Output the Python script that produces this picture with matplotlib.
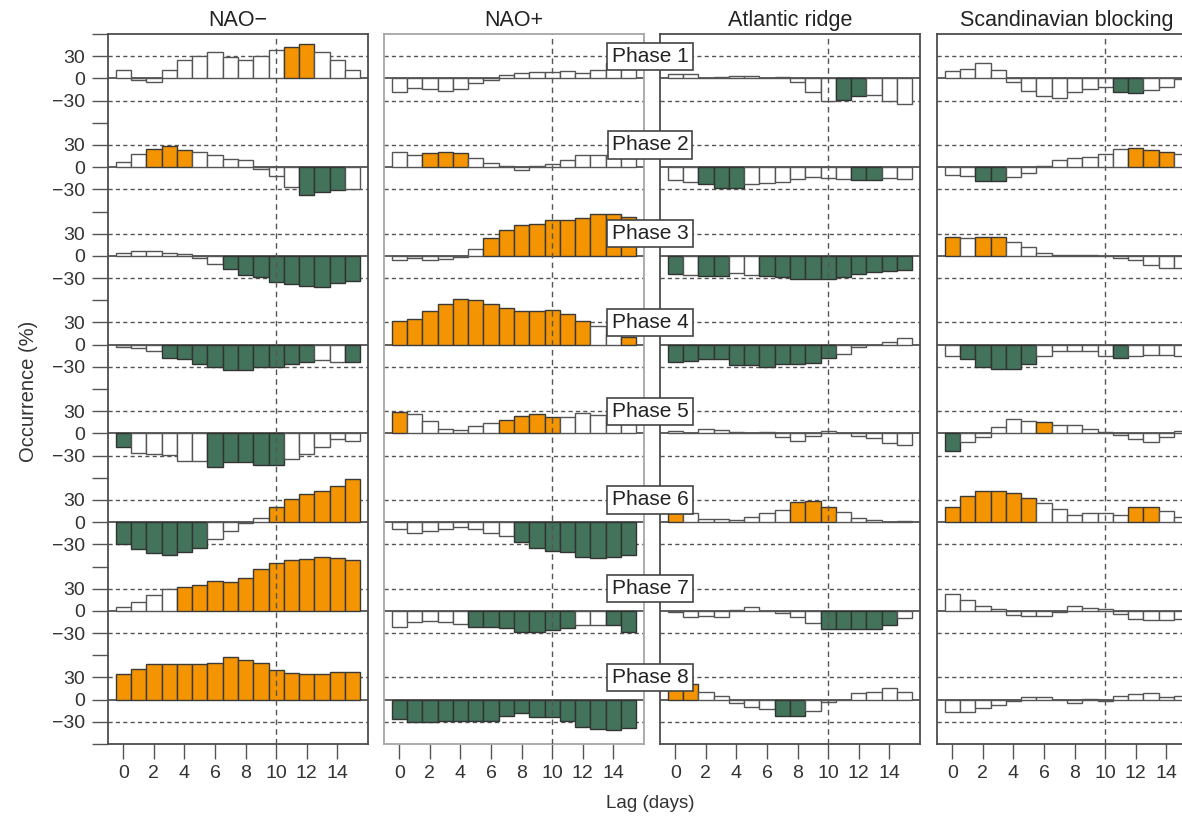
import matplotlib
matplotlib.use("Agg")
import matplotlib.pyplot as plt
from matplotlib.transforms import blended_transform_factory

plt.rcParams['font.family'] = ['Liberation Sans', 'DejaVu Sans']

lags = list(range(16))
regimes = ["NAO\u2212", "NAO+", "Atlantic ridge", "Scandinavian blocking"]
phases = ["Phase %d" % i for i in range(1, 9)]

# occurrence anomalies (%) per phase, lags 0..15
nao_minus = [
    [11, -2, -5, 11, 25, 30, 35, 29, 25, 30, 39, 43, 46, 35, 25, 11],
    [7, 17.6, 24, 29, 23, 20, 16, 11, 9.5, -3, -12, -27.5, -38, -34, -31.5, -30],
    [4.5, 6, 7, 4.5, 3, -3, -11, -18, -26, -29, -35, -38, -41, -42, -37, -34],
    [-3, -4.5, -8, -18, -20, -26, -30, -34, -34, -30, -30, -26, -24, -21, -24, -24],
    [-19, -26, -27.5, -29, -37, -38, -45, -39, -39, -43, -43, -34, -27.5, -18, -8, -10],
    [-29, -37, -42, -44, -40, -35, -23, -12, -1.5, 5, 20, 31, 38, 42, 49, 58],
    [5, 12, 21, 30, 32.5, 35, 40.5, 39, 44.5, 57, 65, 69, 70, 73, 71, 69],
    [35, 42, 48, 48, 48, 48, 50, 57, 54, 49, 40.5, 36.5, 35, 35, 38, 38],
]
nao_plus = [
    [-19, -12.6, -14, -17.6, -14, -6, -2, 4, 7, 9, 9, 10, 7, 12, 21, 17],
    [20, 16, 18.5, 21, 19, 13, 5, 1.4, -4, 1.4, 3.6, 9, 16, 16, 16, 15],
    [-6, -3, -6, -4.5, -1.4, 9.5, 24, 35.6, 42, 43, 48, 49, 51, 56, 56, 52],
    [32, 35, 46, 55, 62, 61, 55.5, 50, 46, 45, 46.5, 42, 32, 25.7, 15, 10],
    [29, 26.6, 16.7, 6, 4, 9.5, 13.5, 18, 23, 25.7, 22, 22.5, 28, 25, 22, 18],
    [-9.5, -14.5, -11.5, -9, -7.2, -9.5, -15, -19.4, -26.6, -35.6, -39.7, -40.6, -46.5, -49, -46.5, -44.6],
    [-22, -14.4, -13.5, -15, -18, -22, -22, -23.5, -29, -29, -25.7, -23.5, -18.5, -18.5, -18.5, -29],
    [-26, -30, -30, -29, -29, -29, -29, -22, -17.6, -24, -24, -29, -36.5, -40, -41, -39],
]
atl_ridge = [
    [5.4, 5.4, 0, 1.4, 3.6, 3.6, 0, 1.4, -5, -18.5, -30, -29, -24, -23, -30.7, -35],
    [-17.6, -20, -23, -28.4, -28.4, -23, -21, -20, -16, -13.5, -15, -16, -17.6, -17.6, -15, -16],
    [-24, -25.7, -27, -27, -22.5, -25.7, -27, -29, -30.7, -31.5, -30.7, -28, -24, -21.6, -19.8, -19],
    [-23.5, -22, -19, -19, -27.5, -27.5, -30, -26, -26, -25, -18.5, -12, -3, 0, 4, 9],
    [3, 1, 6.3, 5, 1.4, 0, 1.4, -5, -10.8, -3.6, 3.6, 1, -4, -6.8, -12.6, -16],
    [12, 12, 3.6, 3.6, 2.3, 6.5, 12, 17, 27, 29, 21, 13.5, 5, 2.3, 0, 1.4],
    [-1.4, -8, -7.2, -8, 1.8, 5, 0, -2.7, -8, -16.7, -24.4, -24.4, -24.4, -24.4, -19.4, -10],
    [18, 21.6, 10.8, 5.4, -5, -10.4, -12.6, -21.6, -21.6, -15.3, -3.6, 0, 8.6, 10.8, 16.2, 10.8],
]
scand_block = [
    [10, 12.6, 21, 11, -5.4, -17.6, -23.5, -26, -19, -15, -11, -19, -20, -16, -12, -1.4],
    [-10, -12.6, -19.4, -19.4, -14, -8.6, 1.4, 9.5, 12, 13.5, 17.6, 24, 25.7, 23, 21, 17.6],
    [25, 23.5, 25, 25, 19.4, 12.6, 3.6, 1, 1.4, 1.4, 0, -2.7, -6, -12.6, -16, -16],
    [-16, -19.4, -30, -33, -33, -26, -16, -8, -8, -8, -15, -17.6, -16, -13.5, -13.5, -16],
    [-23.5, -12, -5.4, 8, 20, 17, 15.8, 12, 12, 5.4, 2.3, -2.3, -8, -11, -4.5, 3.6],
    [20, 35, 42, 42, 39, 33, 25.7, 17.6, 9.5, 12, 12, 9.5, 20, 21, 14.4, 7],
    [23, 15, 6.8, 2.7, -5.4, -7.2, -7.2, -1.4, 6.3, 4.5, 2.7, -4.5, -11, -12, -12, -11],
    [-16.7, -16.7, -11, -7.7, -1.8, 4, 4, 0, -4, 1.4, -1.8, 5.4, 8, 9.5, 4, 5.4],
]

# significance: o = significant increase, g = significant decrease, w = not significant
nao_minus_sig = ["wwwwwwwwwwwoowww", "wwooowwwwwwwgggw", "wwwwwwwggggggggg", "wwwggggggggggwwg",
                 "gwwwwwgggggwwwww", "ggggggwwwwoooooo", "wwwwoooooooooooo", "oooooooooooooooo"]
nao_plus_sig = ["wwwwwwwwwwwwwwww", "wwooowwwwwwwwwww", "wwwwwwoooooooooo", "ooooooooooooowwo",
                "owwwwwwoooowwwww", "wwwwwwwwgggggggg", "wwwwwgggggggwwgg", "gggggggggggggggg"]
atl_ridge_sig = ["wwwwwwwwwwwggwww", "wwgggwwwwwwwggww", "gwggwwgggggggggg", "gggggggggggwwwww",
                 "wwwwwwwwwwwwwwww", "owwwwwwwooowwwww", "wwwwwwwwwwgggggw", "oowwwwwggwwwwwww"]
scand_block_sig = ["wwwwwwwwwwwggwww", "wwggwwwwwwwwooow", "owoowwwwwwwwwwww", "wgggggwwwwwgwwww",
                   "gwwwwwowwwwwwwww", "oooooowwwwwwooww", "wwwwwwwwwwwwwwww", "wwwwwwwwwwwwwwww"]

values = [nao_minus, nao_plus, atl_ridge, scand_block]
signif = [nao_minus_sig, nao_plus_sig, atl_ridge_sig, scand_block_sig]

fill = {'o': '#f39400', 'g': '#43735a', 'w': 'white'}
edge = {'o': '#3a3a3a', 'g': '#333333', 'w': '#555555'}
spine_col = ['#4d4d4d', '#a6a6a6', '#4d4d4d', '#4d4d4d']

W, H = 1182, 816
fig = plt.figure(figsize=(W / 100, H / 100), dpi=100)
lefts = [108, 384, 660, 937]
row = 120  # each phase row spans -60..60
axes = []
for j in range(4):
    ax = fig.add_axes([lefts[j] / W, 72 / H, 260 / W, 710 / H])
    axes.append(ax)
    for i in range(8):
        base = (7 - i) * row
        for d in (-30, 30):
            ax.axhline(base + d, color='#555555', lw=1.0, ls=(0, (3, 2.3)), zorder=1)
        ax.axhline(base, color='#444444', lw=1.2, zorder=1.5)
        sig = signif[j][i]
        ax.bar(lags, values[j][i], bottom=base, width=1.0,
               color=[fill[c] for c in sig], edgecolor=[edge[c] for c in sig],
               linewidth=1.0, zorder=2)
    ax.axvline(10, color='#555555', lw=1.0, ls=(0, (4, 3)), zorder=3)
    ax.set_xlim(-1, 16)
    ax.set_ylim(-row / 2, 7 * row + row / 2)
    for s in ax.spines.values():
        s.set_color(spine_col[j])
        s.set_linewidth(1.3)
    ax.set_xticks(range(0, 15, 2))
    ax.tick_params(axis='x', length=11, width=1.0, color='#555555', labelsize=14,
                   pad=4, labelcolor='#333333')
    ax.set_title(regimes[j], fontsize=15.5, pad=5.5, color='#222222')
    if j == 0:
        ticks, labels = [], []
        for i in range(8):
            base = (7 - i) * row
            ticks += [base - 30, base, base + 30, base + 60]
            labels += ['\u221230', '0', '30', '']
        ticks.append(-60)
        labels.append('')
        ax.set_yticks(ticks)
        ax.set_yticklabels(labels)
        ax.tick_params(axis='y', length=11.5, width=1.0, color='#555555', labelsize=14,
                       pad=5, labelcolor='#333333')
    else:
        ax.set_yticks([])

trans = blended_transform_factory(fig.transFigure, axes[1].transData)
for i, name in enumerate(phases):
    base = (7 - i) * row
    fig.text(650 / W, base + 30, name, transform=trans, ha='center', va='center',
             fontsize=15, color='#222222', zorder=10,
             bbox=dict(boxstyle='square,pad=0.2', fc='white', ec='#444444', lw=1.2))

fig.text(650 / W, 1 - 803 / H, 'Lag (days)', ha='center', va='center', fontsize=13.5,
         color='#333333')
fig.text(28 / W, 1 - 391 / H, 'Occurrence (%)', ha='center', va='center', rotation=90,
         fontsize=14.5, color='#333333')

fig.savefig('out.png', dpi=100)
